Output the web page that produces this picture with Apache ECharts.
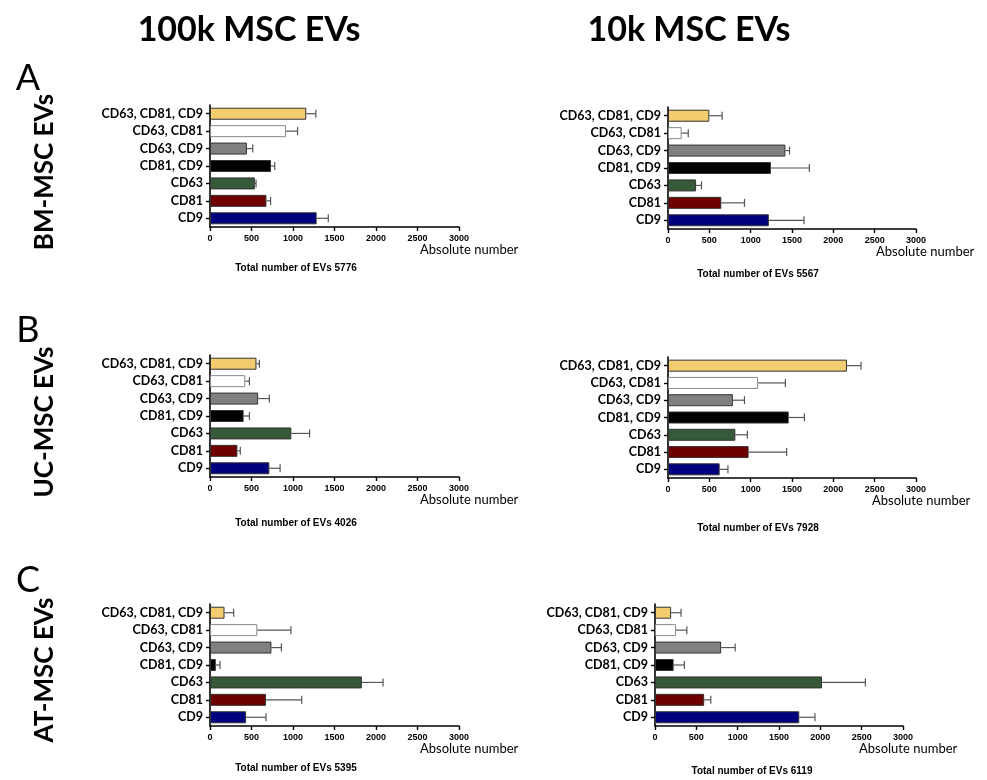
<!DOCTYPE html>
<html>
<head>
<meta charset="utf-8">
<script src="https://cdn.jsdelivr.net/npm/echarts@6/dist/echarts.min.js"></script>
<style>
  html, body { margin: 0; padding: 0; background: #fff; }
  #main { width: 987px; height: 780px; }
</style>
</head>
<body>
<div id="main"></div>
<script>
// categories, top to bottom
var categories = ['CD63, CD81, CD9', 'CD63, CD81', 'CD63, CD9', 'CD81, CD9', 'CD63', 'CD81', 'CD9']
var barColors = ['#F3CC6F', '#FFFFFF', '#808080', '#000000', '#36593A', '#6E0000', '#00007E']

// BM-MSC
var bm100Mean = [1160, 915, 445, 735, 540, 680, 1285]
var bm100Err = [115, 140, 70, 45, 15, 50, 140]
var bm10Mean = [500, 165, 1420, 1245, 340, 645, 1220]
var bm10Err = [155, 80, 50, 465, 65, 280, 425]
// UC-MSC
var uc100Mean = [560, 425, 580, 405, 980, 330, 715]
var uc100Err = [35, 50, 135, 70, 220, 35, 130]
var uc10Mean = [2165, 1090, 785, 1460, 815, 975, 625]
var uc10Err = [170, 330, 140, 190, 145, 460, 100]
// AT-MSC
var at100Mean = [175, 570, 740, 70, 1830, 675, 435]
var at100Err = [110, 405, 120, 50, 255, 430, 240]
var at10Mean = [195, 255, 800, 225, 2020, 595, 1745]
var at10Err = [120, 130, 170, 130, 525, 80, 190]

var totals = ['Total number of EVs 5776', 'Total number of EVs 5567',
              'Total number of EVs 4026', 'Total number of EVs 7928',
              'Total number of EVs 5395', 'Total number of EVs 6119']

var panels = [
  { mean: bm100Mean, err: bm100Err, left: 210, width: 249, top: 105, height: 122, absX: 420, totX: 296, totY: 268 },
  { mean: bm10Mean, err: bm10Err, left: 668, width: 248, top: 107, height: 122, absX: 876, totX: 758, totY: 274 },
  { mean: uc100Mean, err: uc100Err, left: 210, width: 249, top: 355, height: 122, absX: 420, totX: 296, totY: 523 },
  { mean: uc10Mean, err: uc10Err, left: 668, width: 248, top: 357, height: 121, absX: 872, totX: 758, totY: 528 },
  { mean: at100Mean, err: at100Err, left: 210, width: 249, top: 604, height: 122, absX: 420, totX: 296, totY: 768 },
  { mean: at10Mean, err: at10Err, left: 655, width: 248, top: 604, height: 122, absX: 859, totX: 752, totY: 771 }
]

function renderErr(params, api) {
  var v = api.value(0), cat = api.value(1), e = api.value(2)
  var a = api.coord([v, cat])
  var b = api.coord([v + e, cat])
  var st = { stroke: '#555', lineWidth: 1.2 }
  return {
    type: 'group',
    children: [
      { type: 'line', shape: { x1: a[0], y1: a[1], x2: b[0], y2: b[1] }, style: st },
      { type: 'line', shape: { x1: b[0], y1: b[1] - 4, x2: b[0], y2: b[1] + 4 }, style: st }
    ]
  }
}

var grids = [], xAxes = [], yAxes = [], series = [], graphics = []

panels.forEach(function (p, i) {
  grids.push({ left: p.left, top: p.top, width: p.width, height: p.height })
  xAxes.push({
    type: 'value', gridIndex: i, min: 0, max: 3000, interval: 500,
    axisLine: { show: true, lineStyle: { color: '#000', width: 1.6 } },
    axisTick: { show: true, length: 4, lineStyle: { color: '#000', width: 1.4 } },
    axisLabel: {
      color: '#000', fontFamily: 'Liberation Sans', fontWeight: 'bold', fontSize: 9, margin: 7,
      formatter: function (v) { return String(v) }
    },
    splitLine: { show: false }
  })
  yAxes.push({
    type: 'category', gridIndex: i, data: categories, inverse: true,
    axisLine: { show: true, lineStyle: { color: '#000', width: 1.6 } },
    axisTick: { show: true, alignWithLabel: true, length: 4, lineStyle: { color: '#000', width: 1.4 } },
    axisLabel: { color: '#000', fontFamily: 'Lato', fontWeight: 'bold', fontSize: 12.5, margin: 7 }
  })
  series.push({
    type: 'bar', xAxisIndex: i, yAxisIndex: i, barWidth: 12,
    data: p.mean.map(function (v, k) {
      return {
        value: v,
        itemStyle: { color: barColors[k], borderColor: k === 1 ? '#888' : '#333', borderWidth: 1 }
      }
    }),
    silent: true
  })
  series.push({
    type: 'custom', xAxisIndex: i, yAxisIndex: i,
    renderItem: renderErr,
    encode: { x: 0, y: 1 },
    data: p.mean.map(function (v, k) { return [v, k, p.err[k]] }),
    z: 3, silent: true
  })
  graphics.push({
    type: 'text', left: p.absX, top: p.top + p.height + 16,
    style: { text: 'Absolute number', font: '13px Lato', fill: '#000' }
  })
  graphics.push({
    type: 'text', x: p.totX, y: p.totY,
    style: { text: totals[i], font: 'bold 10px "Liberation Sans"', fill: '#000', align: 'center', verticalAlign: 'middle' }
  })
})

// column headers
graphics.push({ type: 'text', x: 249, y: 30, style: { text: '100k MSC EVs', font: 'bold 34px Lato', fill: '#000', align: 'center', verticalAlign: 'middle' } })
graphics.push({ type: 'text', x: 689, y: 30, style: { text: '10k MSC EVs', font: 'bold 34px Lato', fill: '#000', align: 'center', verticalAlign: 'middle' } })

// panel letters
var letters = [['A', 78], ['B', 330], ['C', 580]]
letters.forEach(function (l) {
  graphics.push({ type: 'text', x: 28, y: l[1], style: { text: l[0], font: '36px Lato', fill: '#000', align: 'center', verticalAlign: 'middle' } })
})

// row labels (rotated)
var rows = [['BM-MSC EVs', 172], ['UC-MSC EVs', 422], ['AT-MSC EVs', 670]]
rows.forEach(function (r) {
  graphics.push({
    type: 'text', x: 45, y: r[1], rotation: Math.PI / 2,
    style: { text: r[0], font: 'bold 26px Lato', fill: '#000', align: 'center', verticalAlign: 'middle' }
  })
})

var myChart = echarts.init(document.getElementById('main'), null, { renderer: 'canvas' })
myChart.setOption({
  animation: false,
  backgroundColor: '#fff',
  grid: grids,
  xAxis: xAxes,
  yAxis: yAxes,
  series: series,
  graphic: graphics
})
</script>
</body>
</html>
